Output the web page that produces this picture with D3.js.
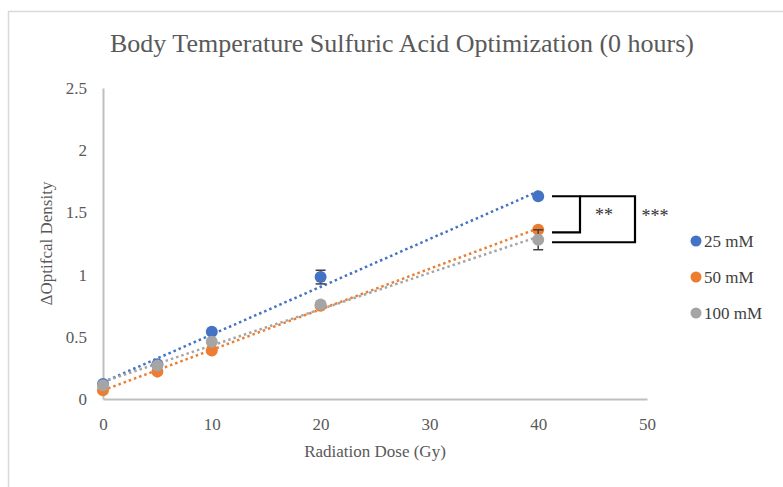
<!DOCTYPE html>
<html>
<head>
<meta charset="utf-8">
<style>
  body { margin: 0; background: #fff; }
  text { font-family: "Liberation Serif", "Times New Roman", serif; }
</style>
</head>
<body>
<svg id="chart" width="783" height="487"></svg>
<script src="https://cdn.jsdelivr.net/npm/d3@7"></script>
<script>
// data
const doses = [0, 5, 10, 20, 40]
const od25 = [0.12, 0.28, 0.54, 0.98, 1.63]
const od50 = [0.07, 0.22, 0.39, 0.75, 1.36]
const od100 = [0.11, 0.27, 0.46, 0.76, 1.28]
const err25 = [0, 0, 0, 0.055, 0]
const err50 = [0, 0, 0, 0, 0]
const err100 = [0, 0, 0, 0, 0.08]
const seriesNames = ["25 mM", "50 mM", "100 mM"]
const seriesColors = ["#4472C4", "#ED7D31", "#A5A5A5"]
const xTicks = [0, 10, 20, 30, 40, 50]
const yTicks = [0, 0.5, 1, 1.5, 2, 2.5]

const series = [
    { name: seriesNames[0], color: seriesColors[0], values: od25, err: err25 },
    { name: seriesNames[1], color: seriesColors[1], values: od50, err: err50 },
    { name: seriesNames[2], color: seriesColors[2], values: od100, err: err100 }
]

let svg = d3.select("#chart")

// outer frame of the chart area
svg.append("rect")
    .attr("x", 8.5).attr("y", 11.5)
    .attr("width", 800).attr("height", 500)
    .attr("fill", "none")
    .attr("stroke", "#d9d9d9")
    .attr("stroke-width", 1.5)

let x = d3.scaleLinear().domain([0, 50]).range([103, 647])
let y = d3.scaleLinear().domain([0, 2.5]).range([399, 88])

// title
svg.append("text")
    .attr("x", 402).attr("y", 52)
    .attr("text-anchor", "middle")
    .attr("font-size", 26)
    .attr("fill", "#595959")
    .text("Body Temperature Sulfuric Acid Optimization (0 hours)")

// axes
let xAxis = svg.append("g")
    .attr("transform", "translate(0," + y(0) + ")")
    .call(d3.axisBottom(x).tickValues(xTicks).tickSize(0).tickPadding(19).tickFormat(d3.format("d")))
let yAxis = svg.append("g")
    .attr("transform", "translate(" + x(0) + ",0)")
    .call(d3.axisLeft(y).tickValues(yTicks).tickSize(0).tickPadding(16).tickFormat(d => d))

for (let ax of [xAxis, yAxis]) {
    ax.select(".domain").attr("stroke", "#bfbfbf").attr("stroke-width", 2)
    ax.selectAll("text")
        .attr("font-family", "Liberation Serif, serif")
        .attr("font-size", 17)
        .attr("fill", "#595959")
}

// axis titles
svg.append("text")
    .attr("x", x(25)).attr("y", 457)
    .attr("text-anchor", "middle")
    .attr("font-size", 17)
    .attr("fill", "#595959")
    .text("Radiation Dose (Gy)")

svg.append("text")
    .attr("transform", "translate(52," + y(1.25) + ") rotate(-90)")
    .attr("text-anchor", "middle")
    .attr("font-size", 17)
    .attr("fill", "#595959")
    .text("\u0394Optifcal Density")

// linear trendlines (least squares) for each series
function fit(xs, ys) {
    let mx = d3.mean(xs), my = d3.mean(ys)
    let sxy = d3.sum(xs, (v, i) => (v - mx) * (ys[i] - my))
    let sxx = d3.sum(xs, v => (v - mx) * (v - mx))
    let b = sxy / sxx
    return { a: my - b * mx, b: b }
}

let plot = svg.append("g")

series.forEach(s => {
    let f = fit(doses, s.values)
    plot.append("line")
        .attr("x1", x(0)).attr("y1", y(f.a))
        .attr("x2", x(40)).attr("y2", y(f.a + f.b * 40))
        .attr("stroke", s.color)
        .attr("stroke-width", 2.5)
        .attr("stroke-dasharray", "2.5,3")
})

series.forEach(s => {
    let g = plot.append("g")
    // error bars
    doses.forEach((d, i) => {
        if (s.err[i] > 0) {
            let cx = x(d)
            let y1 = y(s.values[i] - s.err[i]), y2 = y(s.values[i] + s.err[i])
            g.append("line").attr("x1", cx).attr("x2", cx).attr("y1", y1).attr("y2", y2)
                .attr("stroke", "#404040").attr("stroke-width", 1.5)
            g.append("line").attr("x1", cx - 5).attr("x2", cx + 5).attr("y1", y1).attr("y2", y1)
                .attr("stroke", "#404040").attr("stroke-width", 1.5)
            g.append("line").attr("x1", cx - 5).attr("x2", cx + 5).attr("y1", y2).attr("y2", y2)
                .attr("stroke", "#404040").attr("stroke-width", 1.5)
        }
    })
    g.selectAll("circle")
        .data(doses)
        .enter().append("circle")
        .attr("cx", d => x(d))
        .attr("cy", (d, i) => y(s.values[i]))
        .attr("r", 6)
        .attr("fill", s.color)
})

// significance brackets
let br = svg.append("g").attr("fill", "none").attr("stroke", "#000").attr("stroke-width", 2.2)
br.append("path")
    .attr("d", "M552," + y(od25[4]) + "H580V" + y(od50[4] - 0.02) + "H552")
br.append("path")
    .attr("d", "M580," + y(od25[4]) + "H635V" + y(od100[4] - 0.02) + "H552")

svg.append("text")
    .attr("x", 604).attr("y", 221)
    .attr("text-anchor", "middle")
    .attr("font-size", 18)
    .attr("fill", "#333")
    .text("**")
svg.append("text")
    .attr("x", 655).attr("y", 222)
    .attr("text-anchor", "middle")
    .attr("font-size", 18)
    .attr("fill", "#333")
    .text("***")

// legend
let legend = svg.append("g")
series.forEach((s, i) => {
    let ly = 241 + i * 36
    legend.append("circle")
        .attr("cx", 696).attr("cy", ly)
        .attr("r", 5.5)
        .attr("fill", s.color)
    legend.append("text")
        .attr("x", 704).attr("y", ly + 6)
        .attr("font-size", 17)
        .attr("fill", "#404040")
        .text(s.name)
})
</script>
</body>
</html>
